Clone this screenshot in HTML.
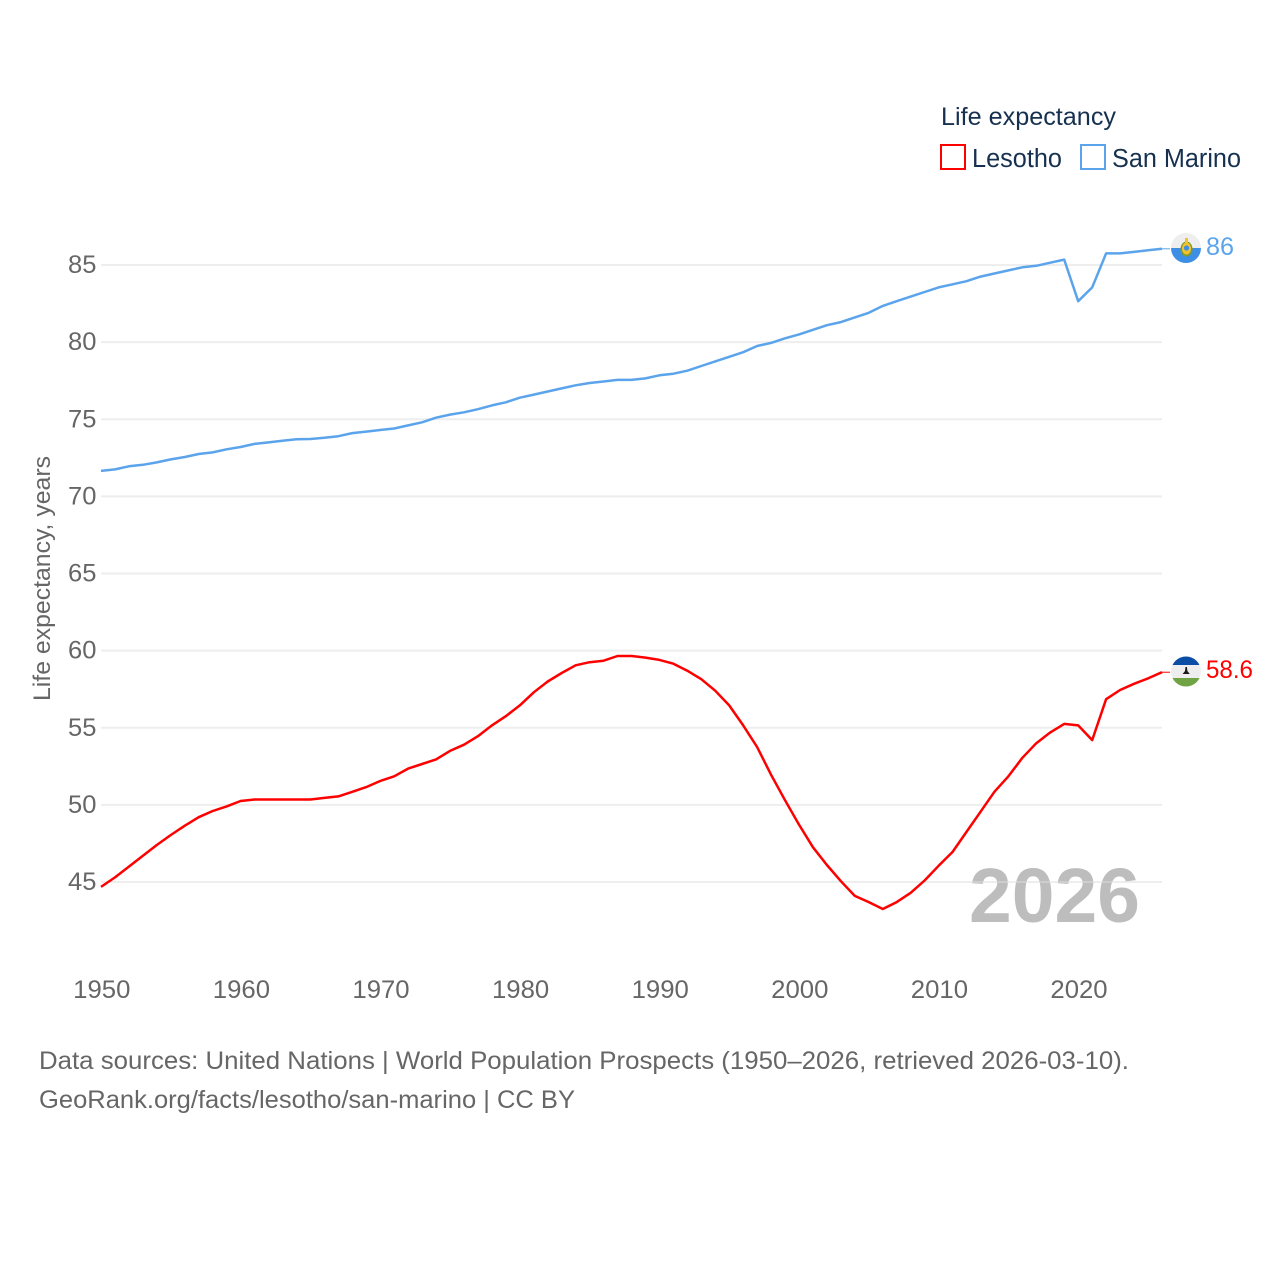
<!DOCTYPE html>
<html>
<head>
<meta charset="utf-8">
<style>
html,body{margin:0;padding:0;background:#fff;}
svg{display:block;}
text{font-family:"Liberation Sans",sans-serif;}
</style>
</head>
<body>
<svg id="chart" width="1280" height="1280" viewBox="0 0 1280 1280" xmlns="http://www.w3.org/2000/svg">
  <rect width="1280" height="1280" fill="#fff"/>
  <text x="969" y="922" font-size="77" font-weight="700" fill="#bdbdbd" textLength="171" lengthAdjust="spacingAndGlyphs">2026</text>
  <g id="grid"></g>
  <g id="yticks"></g>
  <g id="xticks"></g>
  <text transform="translate(50,701) rotate(-90)" font-size="24" fill="#666" textLength="245" lengthAdjust="spacingAndGlyphs">Life expectancy, years</text>
  <g id="series"></g>

  <g>
    <text x="941" y="125" font-size="25" fill="#16304f" textLength="175" lengthAdjust="spacingAndGlyphs">Life expectancy</text>
    <rect x="941" y="145" width="24" height="24" fill="#fff" stroke="#ff0000" stroke-width="2"/>
    <text x="972" y="167" font-size="25.5" fill="#16304f" textLength="90" lengthAdjust="spacingAndGlyphs">Lesotho</text>
    <rect x="1081" y="145" width="24" height="24" fill="#fff" stroke="#5ba4ec" stroke-width="2"/>
    <text x="1112" y="167" font-size="25.5" fill="#16304f" textLength="129" lengthAdjust="spacingAndGlyphs">San Marino</text>
  </g>

  <defs>
    <clipPath id="clip-sm"><circle cx="1186" cy="248" r="15"/></clipPath>
    <clipPath id="clip-ls"><circle cx="1186" cy="671.5" r="15"/></clipPath>
  </defs>
  <g clip-path="url(#clip-sm)">
    <rect x="1171" y="233" width="30" height="15" fill="#eeeeee"/>
    <rect x="1171" y="248" width="30" height="16" fill="#3d8fe6"/>
    <ellipse cx="1186.5" cy="249" rx="6" ry="7.5" fill="#7f9a2e"/>
    <ellipse cx="1186.5" cy="248.5" rx="4.5" ry="6" fill="#f3c22f"/>
    <circle cx="1186.5" cy="248" r="2.6" fill="#3d8fe6"/>
    <rect x="1185" y="238" width="3" height="5" fill="#f3c22f"/>
  </g>
  <g clip-path="url(#clip-ls)">
    <rect x="1171" y="656" width="30" height="31" fill="#eeeeee"/>
    <rect x="1171" y="656" width="30" height="9" fill="#0c4ea6"/>
    <rect x="1171" y="678" width="30" height="9" fill="#6fa344"/>
    <path d="M1185.5 667 h1.4 l.5 4 l2.4 3 h-7.2 l2.4 -3 z" fill="#1a1a1a"/>
  </g>

  <text x="1206" y="255" font-size="25" fill="#5ba4ec" textLength="28" lengthAdjust="spacingAndGlyphs">86</text>
  <text x="1206" y="678" font-size="25" fill="#ff0000" textLength="47" lengthAdjust="spacingAndGlyphs">58.6</text>

  <text x="39" y="1069" font-size="25" fill="#666" textLength="1090" lengthAdjust="spacingAndGlyphs">Data sources: United Nations | World Population Prospects (1950–2026, retrieved 2026-03-10).</text>
  <text x="39" y="1108" font-size="25" fill="#666" textLength="536" lengthAdjust="spacingAndGlyphs">GeoRank.org/facts/lesotho/san-marino | CC BY</text>
</svg>
<script>
const startYear = 1950;
const yTickValues = [45, 50, 55, 60, 65, 70, 75, 80, 85];
const xTickValues = [1950, 1960, 1970, 1980, 1990, 2000, 2010, 2020];
const lesothoValues = [
  44.68,45.3,46.0,46.7,47.4,48.05,48.65,49.2,49.6,49.9,
  50.25,50.35,50.35,50.35,50.35,50.35,50.45,50.55,50.85,51.15,
  51.55,51.85,52.35,52.65,52.95,53.5,53.9,54.45,55.15,55.75,
  56.45,57.3,58.0,58.55,59.05,59.25,59.35,59.65,59.65,59.55,
  59.4,59.15,58.7,58.15,57.4,56.45,55.15,53.75,51.95,50.3,
  48.72,47.25,46.1,45.05,44.1,43.7,43.25,43.7,44.3,45.1,
  46.05,46.95,48.25,49.55,50.85,51.85,53.05,54.0,54.7,55.25,
  55.15,54.2,56.85,57.45,57.85,58.2,58.6
];
const sanMarinoValues = [
  71.65,71.75,71.95,72.05,72.2,72.4,72.55,72.75,72.85,73.05,
  73.2,73.4,73.5,73.6,73.7,73.72,73.8,73.9,74.1,74.2,
  74.3,74.4,74.6,74.8,75.1,75.3,75.45,75.65,75.9,76.1,
  76.4,76.6,76.8,77.0,77.2,77.35,77.45,77.55,77.55,77.65,
  77.85,77.95,78.15,78.45,78.75,79.05,79.35,79.75,79.95,80.25,
  80.5,80.8,81.1,81.3,81.6,81.9,82.35,82.65,82.95,83.25,
  83.55,83.75,83.95,84.25,84.45,84.65,84.85,84.95,85.15,85.35,
  82.65,83.55,85.75,85.75,85.85,85.95,86.05
];

const NS = 'http://www.w3.org/2000/svg';
function xScale(year) { return 101 + (year - 1950) * 13.96; }
function yScale(v) { return 882 - (v - 45) * 15.425; }

const gridG = document.getElementById('grid');
const yG = document.getElementById('yticks');
const xG = document.getElementById('xticks');
const seriesG = document.getElementById('series');

yTickValues.forEach(function (v) {
  const line = document.createElementNS(NS, 'line');
  
  
  line.setAttribute('x1', 101);
  line.setAttribute('x2', 1162);
  line.setAttribute('y1', yScale(v));
  line.setAttribute('y2', yScale(v));
  line.setAttribute('stroke', '#ddd');
  line.setAttribute('stroke-opacity', '0.5');
  line.setAttribute('stroke-width', 2);
  gridG.appendChild(line);

  const t = document.createElementNS(NS, 'text');
  
  
  t.setAttribute('x', 68);
  t.setAttribute('y', yScale(v) + 8);
  t.setAttribute('font-size', 25);
  t.setAttribute('fill', '#666');
  t.setAttribute('textLength', String(v).length * 14.2);
  t.setAttribute('lengthAdjust', 'spacingAndGlyphs');
  t.textContent = v;
  yG.appendChild(t);
});

xTickValues.forEach(function (yr) {
  const t = document.createElementNS(NS, 'text');
  
  
  t.setAttribute('x', xScale(yr) - 27.8);
  t.setAttribute('y', 998);
  t.setAttribute('font-size', 25);
  t.setAttribute('fill', '#666');
  t.setAttribute('textLength', String(yr).length * 14.3);
  t.setAttribute('lengthAdjust', 'spacingAndGlyphs');
  t.textContent = yr;
  xG.appendChild(t);
});

function drawSeries(values, color, name) {
  const pts = values.map(function (v, i) {
    return xScale(startYear + i).toFixed(1) + ',' + yScale(v).toFixed(1);
  }).join(' ');
  const line = document.createElementNS(NS, 'polyline');
  
  
  line.setAttribute('points', pts);
  line.setAttribute('fill', 'none');
  line.setAttribute('stroke', color);
  line.setAttribute('stroke-width', 2.5);
  line.setAttribute('stroke-linejoin', 'round');
  seriesG.appendChild(line);

  const lastY = yScale(values[values.length - 1]);
  const conn = document.createElementNS(NS, 'line');
  
  
  conn.setAttribute('x1', xScale(startYear + values.length - 1));
  conn.setAttribute('x2', 1170);
  conn.setAttribute('y1', lastY);
  conn.setAttribute('y2', lastY);
  conn.setAttribute('stroke', color);
  conn.setAttribute('stroke-width', 1);
  seriesG.appendChild(conn);
}
drawSeries(lesothoValues, '#ff0000', 'lesotho');
drawSeries(sanMarinoValues, '#5ba4ec', 'san-marino');
</script>
</body>
</html>
